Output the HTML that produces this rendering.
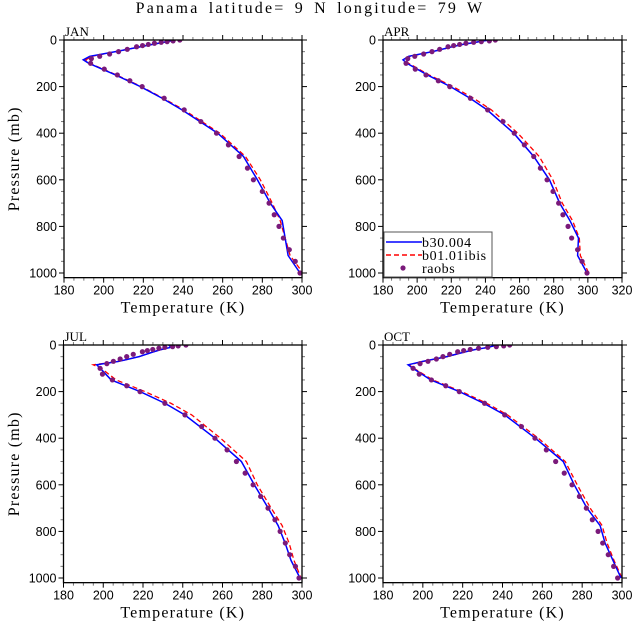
<!DOCTYPE html>
<html><head><meta charset="utf-8"><style>
body{margin:0;background:#fff}
svg{display:block}
.tk{font-family:"Liberation Sans",sans-serif;font-size:12.5px;fill:#000}
.tt{font-family:"Liberation Serif",serif;font-size:16px;fill:#000;letter-spacing:1.2px}
</style></head><body>
<svg id="c" width="633" height="629" xmlns="http://www.w3.org/2000/svg">
<text x="310" y="13" text-anchor="middle" class="tt" style="font-size:16px;letter-spacing:2.2px;word-spacing:3px">Panama  latitude= 9 N longitude= 79 W</text>
</svg>
<script>
const obsP=[0,4,7,10,14,19,24,29,40,50,60,70,80,100,125,150,175,200,250,300,350,400,450,500,550,600,650,700,750,800,850,900,950,1000];
const modP=[0,10,20,30,50,70,85,100,150,200,250,300,400,500,600,700,775,850,925,1000];
const janObs=[238.4,235,232,229,225.6,222.5,219.6,216.6,211.9,207.5,203,198,193.8,193.4,200.3,206.9,213.2,219.4,230.5,240.6,249,256.9,262.9,268.3,272.5,275.5,280,283.4,286,288.4,290.6,293.6,296.6,299];
const aprObs=[245.8,242.3,237.6,233.1,228.6,224.9,221.4,218.1,213.2,208.7,203.8,198.6,194.5,193.5,198.9,205.2,212.4,219.1,231.2,241.3,250.3,256.9,262.8,268.3,272.2,276.1,279.6,282.9,285.4,288.4,290.5,294,296.6,299.5];
const julObs=[241.6,237.7,234.9,231.0,228.0,224.9,222.2,219.7,215.1,211.8,208.5,205.1,201.8,198.4,199.6,204.6,211.8,218.5,231.0,241.1,249.5,256.2,262.3,267.0,271.4,275.4,279.2,282.9,286.4,289.0,291.6,293.8,296.7,298.5];
const octObs=[243.6,240.6,236.9,232.6,228.0,223.8,220.5,217.5,213.5,210.1,206.8,202.6,198.6,195.1,198.2,204.3,211.5,218.3,231.0,241.1,249.5,256.3,262.0,266.7,271.0,274.9,278.6,282.1,285.1,288.0,290.3,293.1,295.8,297.8];
const janB=[236,230,224,218,206,193,189.7,192.5,206,218.5,229.5,239.5,257.5,270.5,277.5,284,290,291.5,293,299];
const janR=[236,230,224,218,206,194,191,193,206.5,219,230,240.5,258.5,271.5,279,285,289,291.5,294,300.5];
const aprB=[242,234,226,220,209,195,191.7,194,206,219.5,231,241,256.6,268.3,277.5,283.5,289.5,294.5,294,299.5];
const aprR=[242,234,226,220,209.5,196,193,195,207,221,233,243.5,259,271.5,279.5,285,291,295,295.6,300.5];
const julB=[233,234,229,225,218,208,196.7,198.5,204,218.5,231,241,256.2,269.5,276,283,288,291.5,294.5,299];
const julR=[233,234,229,225,218,208,195,199,206.5,221,234,244.5,259,272,277.5,284.5,290,293.5,296,299.5];
const octB=[237,233,226,221,212,200,192.6,195,204,218.3,230.5,241.1,256.5,270.5,276,282.4,289,291.5,295.5,299.5];
const octR=[237,233,226,221,212.5,200.5,193,195.5,205,219.5,232,242.5,258,271.5,277.5,284,290,292.5,296,300];
const xTicks=[180,200,220,240,260,280,300,320];
const yTicks=[0,200,400,600,800,1000];

const NS="http://www.w3.org/2000/svg";
const svg=document.getElementById('c');
function mk(tag,attrs,parent){const e=document.createElementNS(NS,tag);for(const k in attrs)e.setAttribute(k,attrs[k]);(parent||svg).appendChild(e);return e;}

function panel(id,label,x0,x1,y0,xmax,obs,blue,red,showY,legend){
  const pmax=1020, y1=y0+233*pmax/1000;
  const X=t=>x0+(t-180)/(xmax-180)*(x1-x0);
  const Y=p=>y0+p/1000*233;
  const g=mk('g',{});
  
  
  const cp=mk('clipPath',{id:'cl'+id},g);
  mk('rect',{x:x0,y:y0,width:x1-x0,height:y1-y0},cp);
  for(let t=180;t<=xmax;t+=5){
    const maj=(t%20===0), L=maj?5:3, c=maj?'#000':'#777';
    mk('line',{x1:X(t),x2:X(t),y1:y1,y2:y1+L,stroke:c,'stroke-width':1},g);
    mk('line',{x1:X(t),x2:X(t),y1:y0,y2:y0-L,stroke:c,'stroke-width':1},g);
  }
  for(let p=0;p<=1000;p+=50){
    const maj=(p%200===0), L=maj?5:3, c=maj?'#000':'#777';
    mk('line',{x1:x0,x2:x0-L,y1:Y(p),y2:Y(p),stroke:c,'stroke-width':1},g);
    mk('line',{x1:x1,x2:x1+L,y1:Y(p),y2:Y(p),stroke:c,'stroke-width':1},g);
  }
  xTicks.filter(t=>t<=xmax).forEach(t=>{
    const e=mk('text',{x:X(t),y:y1+17,'text-anchor':'middle',class:'tk'},g);e.textContent=t;
    
    
  });
  yTicks.forEach(p=>{
    const e=mk('text',{x:x0-7,y:Y(p)+4.5,'text-anchor':'end',class:'tk'},g);e.textContent=p;
    
    
  });
  const xt=mk('text',{x:(x0+x1)/2,y:y1+35,'text-anchor':'middle',class:'tt'},g);xt.textContent='Temperature (K)';
  
  
  if(showY){
    const cy=(y0+y1)/2;
    const yt=mk('text',{x:14,y:cy,'text-anchor':'middle',class:'tt',transform:`rotate(-90 14 ${cy})`,dy:'5'},g);yt.textContent='Pressure (mb)';
    
    
  }
  const lb=mk('text',{x:x0+1,y:y0-4,class:'tt',style:'font-size:13px;letter-spacing:0'},g);lb.textContent=label;
  
  
  const pg=mk('g',{'clip-path':`url(#cl${id})`},g);
  const rl=mk('polyline',{points:red.map((t,i)=>X(t)+','+Y(modP[i])).join(' '),fill:'none',stroke:'#ff0000','stroke-width':1.3,'stroke-dasharray':'5,3'},pg);
  
  
  const bl=mk('polyline',{points:blue.map((t,i)=>X(t)+','+Y(modP[i])).join(' '),fill:'none',stroke:'#0000ff','stroke-width':1.5},pg);
  
  
  obs.forEach((t,i)=>{
    const d=mk('circle',{cx:X(t),cy:Y(obsP[i]),r:2.6,fill:'#7a1a7a'},pg);
    
    
  });
  mk('rect',{x:x0,y:y0,width:x1-x0,height:y1-y0,fill:'none',stroke:'#000','stroke-width':1.3},g);
  if(legend){
    const lg=mk('g',{},g);
    
    
    mk('rect',{x:x0+1,y:232,width:108,height:45,fill:'#fff',stroke:'#555','stroke-width':1},lg);
    const rows=[['b30.004','#0000ff',''],['b01.01ibis','#ff0000','5,3'],['raobs','#7a1a7a','dot']];
    rows.forEach((r,i)=>{
      const yy=242+i*13;
      if(r[2]==='dot') mk('circle',{cx:x0+20,cy:yy,r:2.6,fill:r[1]},lg);
      else mk('line',{x1:x0+3,x2:x0+39,y1:yy,y2:yy,stroke:r[1],'stroke-width':1.4,'stroke-dasharray':r[2]||'none'},lg);
      const tx=mk('text',{x:x0+39,y:yy+5,class:'tt',style:'font-size:14px;letter-spacing:0.6px'},lg);tx.textContent=r[0];
      
      
    });
  }
}
panel('jan','JAN',64,302,40,300,janObs,janB,janR,true,false);
panel('apr','APR',383,622,40,320,aprObs,aprB,aprR,false,true);
panel('jul','JUL',63.5,302,345,300,julObs,julB,julR,true,false);
panel('oct','OCT',383,622,345,300,octObs,octB,octR,false,false);
</script>
</body></html>
